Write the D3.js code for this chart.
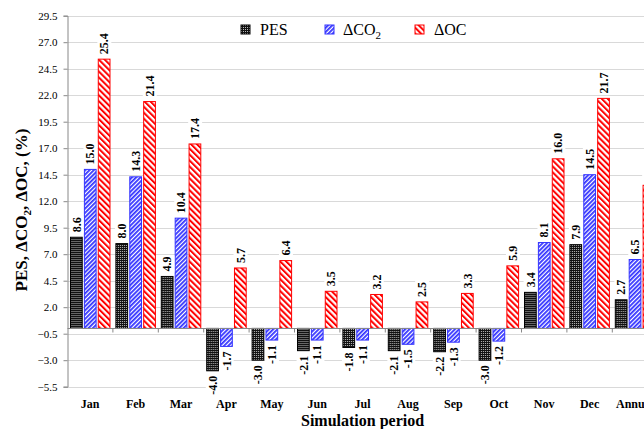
<!DOCTYPE html>
<meta charset="utf-8">
<style>
body { margin: 0; background: #fff; }
svg { display: block; font-family: "Liberation Serif", "Times New Roman", serif; }
.grid line { stroke: #d9d9d9; stroke-width: 1; }
.tick text { font-family: "Liberation Serif", serif; font-size: 11px; fill: #000; }
</style>
<body>
<script src="https://cdn.jsdelivr.net/npm/d3@7"></script>
<script>

// chart values
var months = ["Jan", "Feb", "Mar", "Apr", "May", "Jun", "Jul", "Aug", "Sep", "Oct", "Nov", "Dec", "Annual"];
var seriesNames = ["PES", "CO2", "OC"];
var pes = [8.6, 8.0, 4.9, -4.0, -3.0, -2.1, -1.8, -2.1, -2.2, -3.0, 3.4, 7.9, 2.7];
var dco2 = [15.0, 14.3, 10.4, -1.7, -1.1, -1.1, -1.1, -1.5, -1.3, -1.2, 8.1, 14.5, 6.5];
var doc = [25.4, 21.4, 17.4, 5.7, 6.4, 3.5, 3.2, 2.5, 3.3, 5.9, 16.0, 21.7, 13.5];
var yTicks = [-5.5, -3.0, -0.5, 2.0, 4.5, 7.0, 9.5, 12.0, 14.5, 17.0, 19.5, 22.0, 24.5, 27.0, 29.5];

var W = 644, H = 429;
var plotLeft = 67.5, plotTop = 15.7, plotBottom = 386.7;
var catW = 45.4;

var svg = d3.select("body").append("svg")
    .attr("width", W)
    .attr("height", H);

// patterns for the bar fills
var defs = svg.append("defs");

var pDots = defs.append("pattern")
    .attr("id", "pat-PES")
    .attr("patternUnits", "userSpaceOnUse")
    .attr("width", 2).attr("height", 2);
pDots.append("rect").attr("width", 2).attr("height", 2).attr("fill", "#111");
pDots.append("rect").attr("x", 1).attr("y", 1).attr("width", 1).attr("height", 1).attr("fill", "#bbb");

var pBlue = defs.append("pattern")
    .attr("id", "pat-CO2")
    .attr("patternUnits", "userSpaceOnUse")
    .attr("width", 3).attr("height", 3)
    .attr("patternTransform", "rotate(45)");
pBlue.append("rect").attr("width", 3).attr("height", 3).attr("fill", "#fff");
pBlue.append("rect").attr("width", 1.8).attr("height", 3).attr("fill", "#3333ff");

var pRed = defs.append("pattern")
    .attr("id", "pat-OC")
    .attr("patternUnits", "userSpaceOnUse")
    .attr("width", 4.2).attr("height", 4.2)
    .attr("patternTransform", "rotate(-45)");
pRed.append("rect").attr("width", 4.2).attr("height", 4.2).attr("fill", "#fff");
pRed.append("rect").attr("width", 2).attr("height", 4.2).attr("fill", "#ff0000");

var strokeCol = { PES: "#000", CO2: "#3333ff", OC: "#ff0000" };

// scales
var x0 = d3.scaleBand()
    .domain(months)
    .range([plotLeft, plotLeft + catW * months.length])
    .paddingInner(0).paddingOuter(0);
var x1 = d3.scaleBand()
    .domain(seriesNames)
    .range([3, 42.5])
    .paddingInner(0.155);
var y = d3.scaleLinear()
    .domain([-5.5, 29.5])
    .range([plotBottom, plotTop]);

// gridlines
svg.append("g").attr("class", "grid")
  .selectAll("line")
  .data(yTicks)
  .enter().append("line")
    .attr("x1", plotLeft).attr("x2", W)
    .attr("y1", function(d) { return Math.round(y(d)) + 0.5; })
    .attr("y2", function(d) { return Math.round(y(d)) + 0.5; });

// y axis
var yAxis = svg.append("g")
    .attr("transform", "translate(" + plotLeft + ",0)")
    .call(d3.axisLeft(y).tickValues(yTicks).tickFormat(d3.format(".1f")).tickSize(4).tickPadding(6));
yAxis.attr("font-family", null).attr("font-size", null);
yAxis.select(".domain").attr("stroke", "#888");
yAxis.selectAll(".tick line").attr("stroke", "#888");

// data rows
var rows = months.map(function(m, i) {
  return { month: m, vals: [
    { key: "PES", v: pes[i] },
    { key: "CO2", v: dco2[i] },
    { key: "OC", v: doc[i] }
  ] };
});

var groups = svg.append("g").selectAll("g")
    .data(rows)
  .enter().append("g")
    .attr("transform", function(d) { return "translate(" + x0(d.month) + ",0)"; });

groups.selectAll("rect")
    .data(function(d) { return d.vals; })
  .enter().append("rect")
    .attr("x", function(d) { return x1(d.key); })
    .attr("width", x1.bandwidth())
    .attr("y", function(d) { return y(Math.max(0, d.v)); })
    .attr("height", function(d) { return Math.abs(y(d.v) - y(0)); })
    .attr("fill", function(d) { return "url(#pat-" + d.key + ")"; })
    .attr("stroke", function(d) { return strokeCol[d.key]; })
    .attr("stroke-width", 1);

// value labels, rotated, with white backing
var labels = groups.selectAll("g.lab")
    .data(function(d) { return d.vals; })
  .enter().append("g")
    .attr("class", "lab")
    .attr("transform", function(d) {
      var cx = x1(d.key) + x1.bandwidth() / 2;
      var yy = d.v >= 0 ? y(d.v) - 5 : y(d.v) + 5;
      return "translate(" + cx + "," + yy + ") rotate(-90)";
    });
labels.append("rect").attr("fill", "#fff");
labels.append("text")
    .attr("dy", "0.35em")
    .attr("text-anchor", function(d) { return d.v >= 0 ? "start" : "end"; })
    .style("font-size", "12px")
    .style("font-weight", "bold")
    .text(function(d) { return d.v.toFixed(1); });
labels.each(function() {
  var g = d3.select(this);
  var b = g.select("text").node().getBBox();
  g.select("rect")
    .attr("x", b.x - 1).attr("y", b.y)
    .attr("width", b.width + 2).attr("height", b.height);
});

// category axis line at zero
var zy = Math.round(y(0)) + 0.5;
svg.append("line")
    .attr("x1", plotLeft).attr("x2", W)
    .attr("y1", zy).attr("y2", zy)
    .attr("stroke", "#888");
svg.append("g").selectAll("line")
    .data(months)
  .enter().append("line")
    .attr("x1", function(d) { return x0(d) + catW; })
    .attr("x2", function(d) { return x0(d) + catW; })
    .attr("y1", zy).attr("y2", zy + 4)
    .attr("stroke", "#888");

// category labels
svg.append("g").selectAll("text")
    .data(months)
  .enter().append("text")
    .attr("x", function(d) { return x0(d) + catW / 2; })
    .attr("y", 408)
    .attr("text-anchor", "middle")
    .style("font-size", "12px")
    .style("font-weight", "bold")
    .text(function(d) { return d; });

// axis titles
svg.append("text")
    .attr("x", (x0.range()[0] + x0.range()[1]) / 2).attr("y", 426)
    .attr("text-anchor", "middle")
    .style("font-size", "16px")
    .style("font-weight", "bold")
    .text("Simulation period");

var yt = svg.append("text")
    .attr("transform", "translate(27,210) rotate(-90)")
    .attr("text-anchor", "middle")
    .style("font-size", "17px")
    .style("font-weight", "bold");
yt.append("tspan").text("PES, \u0394CO");
yt.append("tspan").attr("dy", 4).style("font-size", "11px").text("2");
yt.append("tspan").attr("dy", -4).text(", \u0394OC, (%)");

// legend
var legend = svg.append("g");
legend.append("rect")
    .attr("x", 205).attr("y", 17)
    .attr("width", 285).attr("height", 24)
    .attr("fill", "#fff");
var legItems = [
  { key: "PES", x: 241, tx: 260 },
  { key: "CO2", x: 325, tx: 343 },
  { key: "OC", x: 415, tx: 434 }
];
legItems.forEach(function(it) {
  legend.append("rect")
      .attr("x", it.x).attr("y", 25)
      .attr("width", 9).attr("height", 9)
      .attr("fill", "url(#pat-" + it.key + ")")
      .attr("stroke", strokeCol[it.key]);
  var t = legend.append("text")
      .attr("x", it.tx).attr("y", 35)
      .style("font-size", "16px");
  if (it.key === "PES") {
    t.text("PES");
  } else if (it.key === "CO2") {
    t.append("tspan").text("\u0394CO");
    t.append("tspan").attr("dy", 4).style("font-size", "11px").text("2");
  } else {
    t.text("\u0394OC");
  }
});

</script>
</body>
